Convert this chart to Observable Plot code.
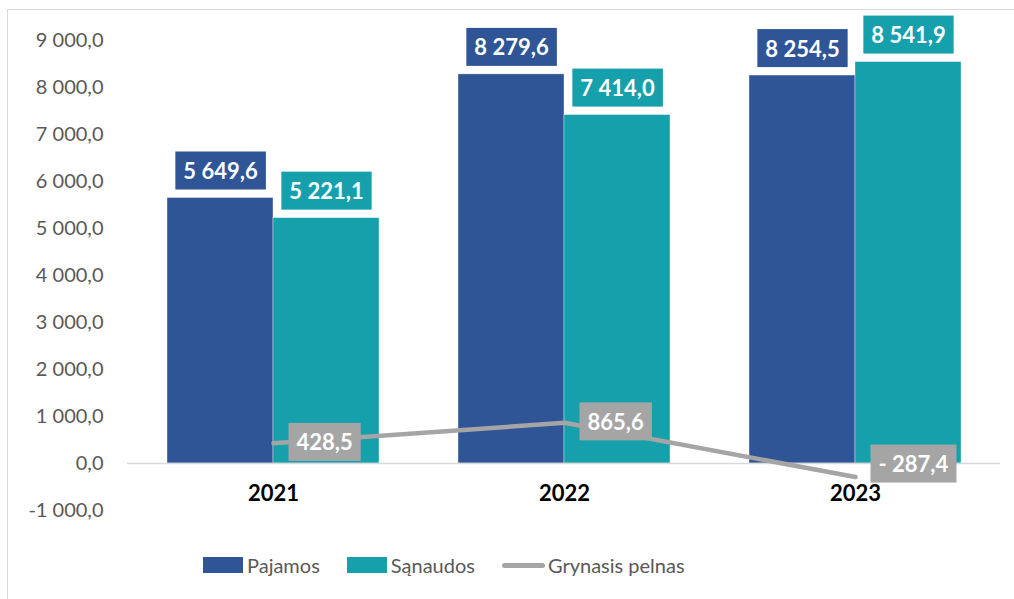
<!DOCTYPE html>
<html><head><meta charset="utf-8">
<script src="https://cdn.jsdelivr.net/npm/d3@7"></script>
<script src="https://cdn.jsdelivr.net/npm/@observablehq/plot@0.6"></script>
<style>
body{margin:0;background:#fff;font-family:Lato,"Noto Sans",sans-serif;}
#wrap{position:relative;width:1014px;height:599px;overflow:hidden;background:#fff;}
#frame{position:absolute;left:7px;top:9px;width:1030px;height:620px;border:1.5px solid #D9D9D9;box-sizing:border-box;}
#chart{position:absolute;left:0;top:0;}
#legend{position:absolute;left:203px;top:551px;height:28px;display:flex;align-items:center;font-size:20px;color:#595959;white-space:nowrap;}
#legend .sw{display:inline-block;width:40px;height:16px;margin-right:4px;}
#legend .ln{display:inline-block;width:43px;height:5px;border-radius:3px;background:#A5A5A5;margin-right:3px;}
#legend .item{display:flex;align-items:center;margin-right:27px;}
</style>
</head><body>
<div id="wrap"><div id="frame"></div><div id="chart"></div>
<div id="legend">
  <div class="item"><span class="sw" style="background:#2F5597"></span>Pajamos</div>
  <div class="item"><span class="sw" style="background:#15A0AC"></span>Sąnaudos</div>
  <div class="item"><span class="ln"></span>Grynasis pelnas</div>
</div></div>
<script>
const years = ["2021", "2022", "2023"];
const pajamos = [5649.6, 8279.6, 8254.5];
const sanaudos = [5221.1, 7414.0, 8541.9];
const pelnas = [428.5, 865.6, -287.4];
const yTicks = [-1000, 0, 1000, 2000, 3000, 4000, 5000, 6000, 7000, 8000, 9000];

const data = years.map((year, i) => ({year, pajamos: pajamos[i], sanaudos: sanaudos[i], pelnas: pelnas[i]}));

const loc = d3.formatLocale({decimal: ",", thousands: " ", grouping: [3], currency: ["", ""], minus: "-"});
const fmt = loc.format(",.1f");
const fmtV = v => v < 0 ? "- " + fmt(-v) : fmt(v);

const W = 1014, ML = 127, MR = 14;
const pIn = 0.2715, pOut = 0.1357;
const step = (W - ML - MR) / (years.length - pIn + 2 * pOut);
const bw = step * (1 - pIn);
const half = bw / 2, quarter = bw / 4;

const PAJ = "#2F5597", SAN = "#15A0AC", NET = "#A5A5A5";

const plot = Plot.plot({
  width: W, height: 545,
  marginLeft: ML, marginRight: MR, marginTop: 40, marginBottom: 35,
  style: {fontFamily: "Lato, 'Noto Sans', sans-serif", fontSize: "20px", color: "#595959", background: "transparent"},
  x: {type: "band", domain: years, paddingInner: pIn, paddingOuter: pOut, axis: null},
  y: {domain: [-1000, 9000], axis: null},
  marks: [
    Plot.axisY(yTicks, {tickSize: 0, tickPadding: 24, tickFormat: fmt, fontSize: 20, fill: "#595959"}),
    Plot.barY(data, {x: "year", y: "pajamos", fill: PAJ, insetRight: half, stroke: "#fff", strokeOpacity: 0.5, strokeWidth: 0.75}),
    Plot.barY(data, {x: "year", y: "sanaudos", fill: SAN, insetLeft: half, stroke: "#fff", strokeOpacity: 0.5, strokeWidth: 0.75}),
    Plot.ruleY([0], {stroke: "#D9D9D9", strokeWidth: 1.5}),
    Plot.text(data, {x: "year", y: "pajamos", text: d => fmtV(d.pajamos), dx: -quarter, dy: -26, fill: "white", fontWeight: "bold", fontSize: 22, className: "lbl-paj"}),
    Plot.text(data, {x: "year", y: "sanaudos", text: d => fmtV(d.sanaudos), dx: quarter, dy: -26, fill: "white", fontWeight: "bold", fontSize: 22, className: "lbl-san"}),
    Plot.text(data, {x: "year", y: () => 0, text: "year", dy: 30, fill: "#000", fontWeight: "bold", fontSize: 22}),
    Plot.line(data, {x: "year", y: "pelnas", stroke: NET, strokeWidth: 4.5, strokeLinecap: "round", strokeLinejoin: "round"}),
    Plot.text(data.filter(d => d.pelnas >= 0), {x: "year", y: "pelnas", text: d => fmtV(d.pelnas), textAnchor: "start", dx: 23, fill: "white", fontWeight: "bold", fontSize: 22, className: "lbl-net"}),
    Plot.text(data.filter(d => d.pelnas < 0), {x: "year", y: "pelnas", text: d => fmtV(d.pelnas), textAnchor: "start", dx: 23, dy: -12, fill: "white", fontWeight: "bold", fontSize: 22, className: "lbl-net"})
  ]
});
document.getElementById("chart").appendChild(plot);

function boxes(cls, color) {
  d3.select(plot).selectAll("g." + cls + " text").each(function() {
    const b = this.getBBox();
    const r = document.createElementNS("http://www.w3.org/2000/svg", "rect");
    r.setAttribute("x", b.x - 8);
    r.setAttribute("y", b.y + b.height / 2 - 19);
    r.setAttribute("width", b.width + 16);
    r.setAttribute("height", 38);
    r.setAttribute("fill", color);
    const t = this.getAttribute("transform");
    if (t) r.setAttribute("transform", t);
    this.parentNode.insertBefore(r, this);
  });
}
boxes("lbl-paj", PAJ);
boxes("lbl-san", SAN);
boxes("lbl-net", NET);
</script>
</body></html>
